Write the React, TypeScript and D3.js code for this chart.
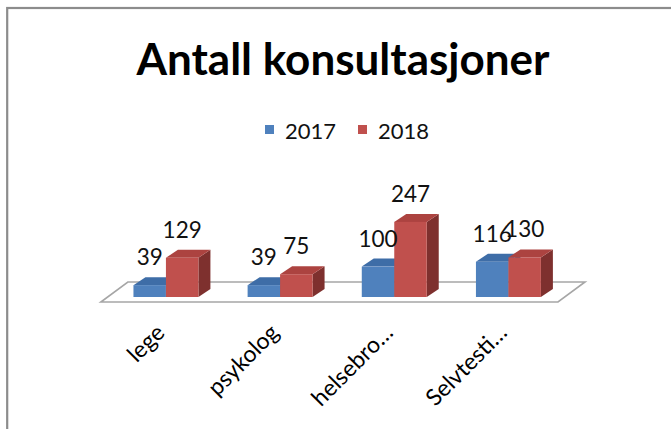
import React from 'react';
import * as d3 from 'd3';

const title = 'Antall konsultasjoner';
const categories = ['lege', 'psykolog', 'helsebro…', 'Selvtesti…'];
const seriesNames = ['2017', '2018'];
const values2017 = [39, 39, 100, 116];
const values2018 = [129, 75, 247, 130];

const palette = [
  { front: '#4F81BD', top: '#3E6DA7', side: '#345A85' },
  { front: '#C0504D', top: '#AC4340', side: '#7E302E' },
];

export default function App() {
  const W = 671;
  const H = 429;
  const baseY = 297;
  const depthX = 12;
  const depthY = -8;

  const x = d3
    .scaleBand<string>()
    .domain(categories)
    .range([108.85, 565.5])
    .paddingInner(0.431)
    .paddingOuter(0.2155);
  const sub = d3.scaleBand<string>().domain(seriesNames).range([0, x.bandwidth()]);
  const y = d3.scaleLinear().domain([0, 300]).range([baseY, baseY - 91.2]);

  const [r0, r1] = x.range();
  const floor = [
    [r0 - 8, baseY + 5],
    [r1 - 7.5, baseY + 5],
    [r1 + 19.5, baseY - 15],
    [r0 + 19, baseY - 15],
  ];
  const floorPath = d3.line()(floor as [number, number][]) + 'Z';

  const series = [values2017, values2018];
  const cx = 343;

  const bars: JSX.Element[] = [];
  const labels: JSX.Element[] = [];
  categories.forEach((c, ci) => {
    series.forEach((vals, si) => {
      const v = vals[ci];
      const bx = (x(c) as number) + (sub(seriesNames[si]) as number);
      const bw = sub.bandwidth();
      const ty = y(v);
      const col = palette[si];
      const top = [
        [bx, ty],
        [bx + depthX, ty + depthY],
        [bx + bw + depthX, ty + depthY],
        [bx + bw, ty],
      ] as [number, number][];
      const side = [
        [bx + bw, ty],
        [bx + bw + depthX, ty + depthY],
        [bx + bw + depthX, baseY + depthY],
        [bx + bw, baseY],
      ] as [number, number][];
      bars.push(
        <g key={`b-${ci}-${si}`}>
          <path d={d3.line()(side) + 'Z'} fill={col.side} />
          <path d={d3.line()(top) + 'Z'} fill={col.top} />
          <rect x={bx} y={ty} width={bw} height={baseY - ty} fill={col.front} />
        </g>
      );
      labels.push(
        <text
          key={`l-${ci}-${si}`}
          x={bx + bw / 2}
          y={ty - 20}
          textAnchor="middle"
          fontFamily="Lato"
          fontSize={22.5}
          fill="#111"
        >
          {v}
        </text>
      );
    });
  });

  const legendItems = seriesNames.map((name, i) => {
    const lx = 265 + i * 93;
    return (
      <g key={`lg-${i}`}>
        <rect x={lx} y={125} width={9} height={9} fill={palette[i].front} />
        <text x={lx + 20} y={138.5} fontFamily="Lato" fontSize={22} fill="#111">
          {name}
        </text>
      </g>
    );
  });

  return (
    <svg
      width={W}
      height={H}
      style={{ position: 'fixed', left: 0, top: 0, background: '#fff' }}
    >
      <rect x={0} y={0} width={W} height={H} fill="#fff" />
      <rect x={7.2} y={8} width={800} height={600} fill="none" stroke="#8c8c8c" strokeWidth={2.2} />
      <text
        x={cx}
        y={74.5}
        textAnchor="middle"
        fontFamily="Lato"
        fontWeight="bold"
        fontSize={44}
        fill="#000"
      >
        {title}
      </text>
      {legendItems}
      <path d={floorPath} fill="#fff" stroke="#a6a6a6" strokeWidth={1.6} />
      {bars}
      {labels}
      {categories.map((c) => {
        const px = (x(c) as number) + x.bandwidth() / 2 - 4;
        const py = 330;
        return (
          <text
            key={`c-${c}`}
            x={px}
            y={py}
            transform={`rotate(-45 ${px} ${py})`}
            textAnchor="end"
            dominantBaseline="middle"
            fontFamily="Lato"
            fontSize={23}
            fill="#000"
          >
            {c}
          </text>
        );
      })}
    </svg>
  );
}
